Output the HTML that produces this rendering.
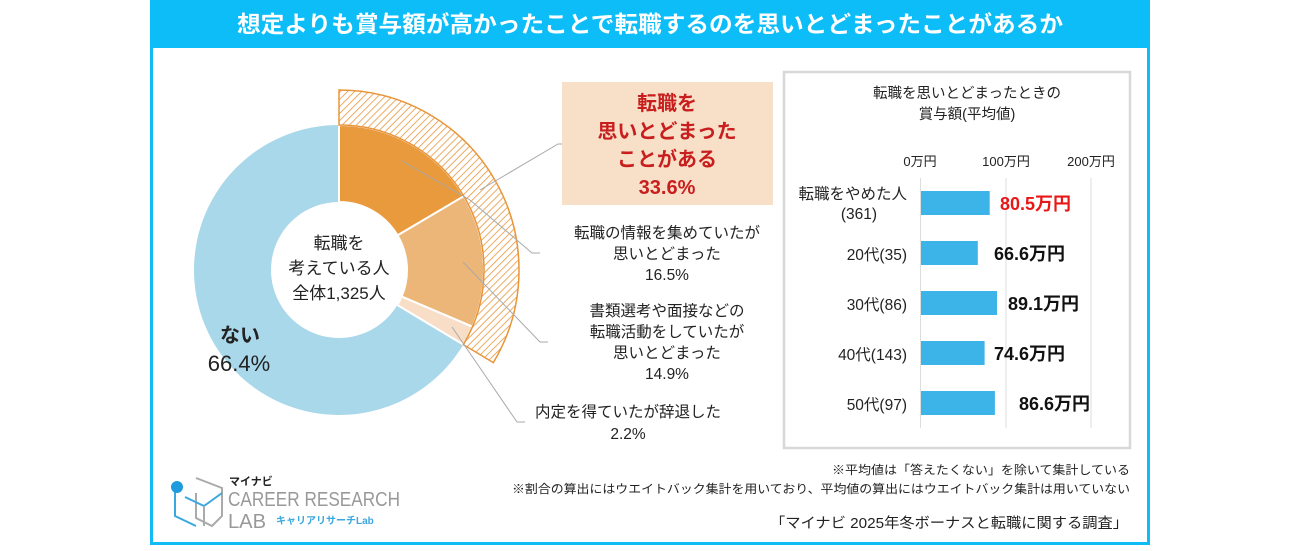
<!DOCTYPE html>
<html><head><meta charset="utf-8"><style>
body{margin:0;background:#fff;}
svg text{font-family:"Liberation Sans","Noto Sans CJK JP",sans-serif;}
</style></head><body>
<svg id="s" width="1300" height="546" viewBox="0 0 1300 546" xmlns="http://www.w3.org/2000/svg">
<defs>
<pattern id="h" patternUnits="userSpaceOnUse" width="5" height="5" patternTransform="rotate(45)">
<rect width="5" height="5" fill="#fff"/><line x1="0" y1="0" x2="0" y2="5" stroke="#E8953A" stroke-width="1.6"/>
</pattern>
</defs>
<rect x="151.5" y="1.5" width="997" height="542" fill="#fff" stroke="#11BBF5" stroke-width="3"/>
<rect x="150" y="0" width="1000" height="48" fill="#0DBDF7"/>
<text x="237" y="32" font-size="23" font-weight="bold" fill="#fff" textLength="826" lengthAdjust="spacingAndGlyphs">想定よりも賞与額が高かったことで転職するのを思いとどまったことがあるか</text>
<g id="donut"></g>
<g stroke="#AAA" stroke-width="1" fill="none">
<polyline points="480,190 558,144 566,144"/>
<polyline points="402,161 470,200 532,253 540,253"/>
<polyline points="463,262 540,342 548,342"/>
<polyline points="452,327 517,422 525,422"/>
</g>
<text x="339" y="249" font-size="17" text-anchor="middle" fill="#222">転職を</text>
<text x="339" y="274" font-size="17" text-anchor="middle" fill="#222">考えている人</text>
<text x="339" y="299" font-size="17" text-anchor="middle" fill="#222">全体1,325人</text>
<text x="240" y="342" font-size="20" font-weight="bold" text-anchor="middle" fill="#222">ない</text>
<text x="239" y="371" font-size="22" text-anchor="middle" fill="#222">66.4%</text>
<rect x="562" y="82" width="211" height="123" fill="#F8E0C8"/>
<g font-size="20" font-weight="bold" fill="#C81E1E" text-anchor="middle">
<text x="667" y="110">転職を</text><text x="667" y="138">思いとどまった</text><text x="667" y="166">ことがある</text><text x="667" y="194">33.6%</text></g>
<g font-size="15.5" fill="#222" text-anchor="middle">
<text x="667" y="238">転職の情報を集めていたが</text><text x="667" y="259">思いとどまった</text><text x="667" y="280">16.5%</text>
<text x="667" y="316">書類選考や面接などの</text><text x="667" y="337">転職活動をしていたが</text><text x="667" y="358">思いとどまった</text><text x="667" y="379">14.9%</text>
<text x="628" y="417">内定を得ていたが辞退した</text><text x="628" y="439">2.2%</text></g>
<rect x="784" y="72" width="346" height="376" fill="#fff" stroke="#D8D8D8" stroke-width="2.5"/>
<text x="967" y="98" font-size="14.5" text-anchor="middle" fill="#222">転職を思いとどまったときの</text>
<text x="967" y="119" font-size="14.5" text-anchor="middle" fill="#222">賞与額(平均値)</text>
<g font-size="13" fill="#222" text-anchor="middle"><text x="920" y="166">0万円</text><text x="1006" y="166">100万円</text><text x="1091" y="166">200万円</text></g>
<g stroke="#DDD" stroke-width="1"><line x1="920.5" y1="178" x2="920.5" y2="428"/><line x1="1006" y1="178" x2="1006" y2="428"/><line x1="1091" y1="178" x2="1091" y2="428"/></g>
<g fill="#3CB4E8">
<rect x="921" y="191" width="68.7" height="24"/><rect x="921" y="241" width="56.8" height="24"/><rect x="921" y="291" width="76" height="24"/><rect x="921" y="341" width="63.6" height="24"/><rect x="921" y="391" width="73.9" height="24"/></g>
<g font-size="15.5" fill="#222" text-anchor="end">
<text x="907" y="199">転職をやめた人</text><text x="877" y="219">(361)</text>
<text x="907" y="260">20代(35)</text><text x="907" y="310">30代(86)</text><text x="907" y="360">40代(143)</text><text x="907" y="410">50代(97)</text></g>
<g font-size="18" font-weight="bold" fill="#111">
<text x="1000" y="210" fill="#E81818">80.5万円</text><text x="994" y="260">66.6万円</text><text x="1008" y="310">89.1万円</text><text x="994" y="360">74.6万円</text><text x="1019" y="410">86.6万円</text></g>
<g font-size="12" fill="#222">
<text x="832" y="474" textLength="298" lengthAdjust="spacingAndGlyphs">※平均値は「答えたくない」を除いて集計している</text>
<text x="512" y="493" textLength="618" lengthAdjust="spacingAndGlyphs">※割合の算出にはウエイトバック集計を用いており、平均値の算出にはウエイトバック集計は用いていない</text>
<text x="770" y="528" font-size="14.5" textLength="358" lengthAdjust="spacingAndGlyphs">「マイナビ 2025年冬ボーナスと転職に関する調査」</text></g>
<g fill="none" stroke-width="2">
<polyline points="196,493 196,518 212,526 222,516 222,488 196,478" stroke="#AAA"/>
<polyline points="175,490 175,516 196,526" stroke="#3AA8E0"/>
<polyline points="185,497 204,506 222,493" stroke="#3AA8E0"/>
<line x1="204" y1="506" x2="204" y2="526" stroke="#AAA"/>
</g>
<circle cx="177" cy="487" r="6" fill="#1E9BDC"/>
<text x="229" y="485" font-size="11" font-weight="bold" fill="#222">マイナビ</text>
<text x="228" y="506" font-size="20" fill="#999" textLength="172" lengthAdjust="spacingAndGlyphs">CAREER RESEARCH</text>
<text x="228" y="528" font-size="20" fill="#999" textLength="38" lengthAdjust="spacingAndGlyphs">LAB</text>
<text x="276" y="524" font-size="10" font-weight="bold" fill="#3AA8E0">キャリアリサーチLab</text>
</svg>
<script>
var cx=339,cy=270;
function p(r,a){a=a*Math.PI/180;return (cx+r*Math.sin(a)).toFixed(2)+","+(cy-r*Math.cos(a)).toFixed(2);}
function arc(r0,r1,a0,a1,fill,stroke){var l=(a1-a0)>180?1:0;
return '<path d="M'+p(r1,a0)+' A'+r1+','+r1+' 0 '+l+' 1 '+p(r1,a1)+' L'+p(r0,a1)+' A'+r0+','+r0+' 0 '+l+' 0 '+p(r0,a0)+' Z" fill="'+fill+'" stroke="'+stroke+'" stroke-width="'+(stroke=='#fff'?2:1.5)+'"/>';}
var s='';
s+=arc(68,145,120.96,360,'#A9D8EA','none');
s+=arc(68,145,0,59.4,'#E89A3C','#fff');
s+=arc(68,145,59.4,113,'#EBB677','#fff');
s+=arc(68,145,113,120.96,'#F8DEC6','#fff');
s+=arc(145,180,0,120.96,'url(#h)','#E8953A');
document.getElementById('donut').innerHTML=s;
</script>
</body></html>
